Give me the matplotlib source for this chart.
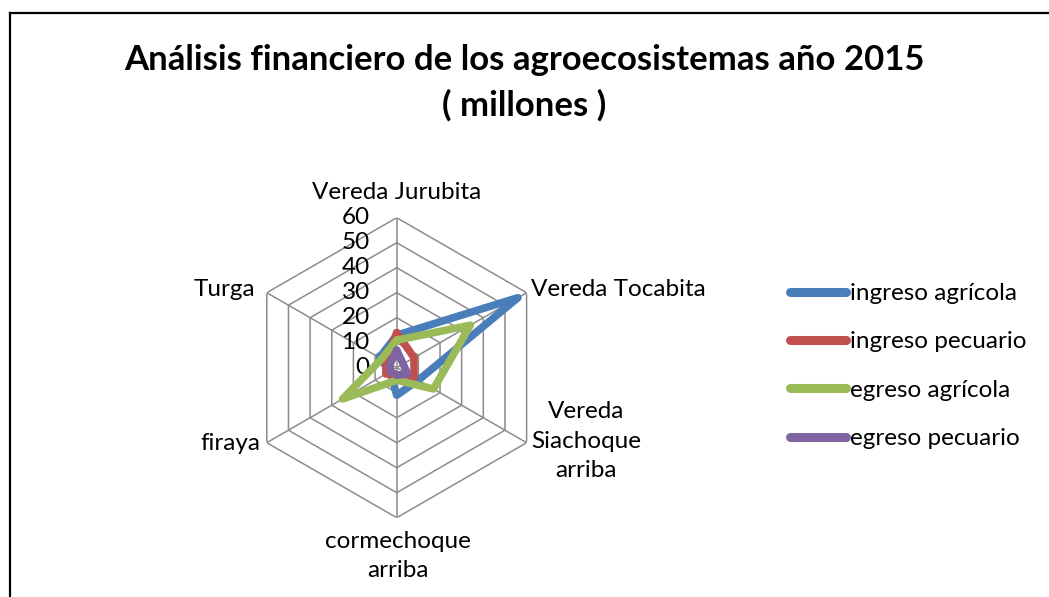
#!/usr/bin/python

"""
Radar chart: analisis financiero de los agroecosistemas 2015
"""
import numpy as np
import matplotlib
matplotlib.use('Agg')
import matplotlib.pyplot as plt
from matplotlib.lines import Line2D
from matplotlib.transforms import offset_copy

plt.rcParams['font.family'] = ['Lato', 'DejaVu Sans']

categories = [
    'Vereda Jurubita', 'Vereda Tocabita', 'Vereda\nSiachoque\narriba',
    'cormechoque\narriba', 'firaya', 'Turga',
]
ingreso_agricola = [13, 56, 10, 11, 3, 8]
ingreso_pecuario = [14, 8, 8, 3, 5, 5]
egreso_agricola = [11, 34, 17, 5, 25, 7]
egreso_pecuario = [7, 3, 5, 3, 3, 3]
series_names = ['ingreso agrícola', 'ingreso pecuario', 'egreso agrícola', 'egreso pecuario']
colors = ['#4A7EBB', '#C0504D', '#9BBB59', '#8064A2']
r_ticks = [0, 10, 20, 30, 40, 50, 60]


def main():
    W, H = 1049, 597
    fig = plt.figure(figsize=(W / 100, H / 100), dpi=100)

    # centre (397, 368) px, radius 150 px
    cx, cy, rad = 396.7, 367.7, 150
    ax = fig.add_axes([(cx - rad) / W, (H - cy - rad) / H, 2 * rad / W, 2 * rad / H],
                      projection='polar')
    ax.set_theta_offset(np.pi / 2)
    ax.set_theta_direction(-1)
    ax.set_ylim(0, 60)
    ax.grid(False)
    ax.spines['polar'].set_visible(False)
    ax.set_xticks([])
    ax.set_yticks([])
    ax.patch.set_alpha(0)

    n = len(categories)
    angles = np.linspace(0, 2 * np.pi, n, endpoint=False)
    closed = np.append(angles, angles[0])

    # hexagonal grid + spokes
    for r in r_ticks[1:]:
        ax.plot(closed, [r] * (n + 1), color='#8C8C8C', lw=1.1, zorder=1)
    for a in angles:
        ax.plot([a, a], [0, 60], color='#8C8C8C', lw=1.1, zorder=1)

    fs = 17.5

    # radial tick labels, left of the vertical axis
    lab_tr = offset_copy(ax.transData, fig=fig, x=-27, y=0, units='dots')
    for r in r_ticks:
        ax.text(0, r, str(r), transform=lab_tr, ha='right', va='center',
                fontsize=fs, color='black')

    data = [ingreso_agricola, ingreso_pecuario, egreso_agricola, egreso_pecuario]
    for vals, c, name in zip(data, colors, series_names):
        ax.plot(closed, vals + vals[:1], color=c, lw=5.5, solid_joinstyle='round',
                solid_capstyle='round', zorder=3, label=name)

    # category labels
    fig.text(397 / W, 1 - 192 / H, categories[0], ha='center', va='center', fontsize=fs)
    fig.text(531 / W, 1 - 289 / H, categories[1], ha='left', va='center', fontsize=fs)
    fig.text(586 / W, 1 - 441 / H, categories[2], ha='center', va='center', fontsize=fs,
             linespacing=1.5)
    fig.text(398 / W, 1 - 556 / H, categories[3], ha='center', va='center', fontsize=fs,
             linespacing=1.5)
    fig.text(260 / W, 1 - 444 / H, categories[4], ha='right', va='center', fontsize=fs)
    fig.text(255 / W, 1 - 289 / H, categories[5], ha='right', va='center', fontsize=fs)

    # title
    fig.text(524 / W, 1 - 60 / H, 'Análisis financiero de los agroecosistemas año 2015',
             ha='center', va='center', fontsize=25, fontweight='bold')
    fig.text(524 / W, 1 - 105 / H, '( millones )', ha='center', va='center',
             fontsize=25, fontweight='bold')

    # legend
    handles = [Line2D([0], [0], color=c, lw=6.5, solid_capstyle='round') for c in colors]
    fig.legend(handles, series_names, loc='upper left',
               bbox_to_anchor=(790 / W, 1 - 283 / H), frameon=False,
               fontsize=fs, handlelength=2.3, handletextpad=0.15,
               labelspacing=1.13, borderpad=0, borderaxespad=0)

    # chart border (top and left edges visible)
    fig.add_artist(Line2D([10 / W, 10 / W], [0, 1 - 13 / H], color='black', lw=1.6))
    fig.add_artist(Line2D([10 / W, 1], [1 - 13 / H, 1 - 13 / H], color='black', lw=1.6))

    fig.savefig('out.png', dpi=100)


if __name__ == '__main__':
    main()
